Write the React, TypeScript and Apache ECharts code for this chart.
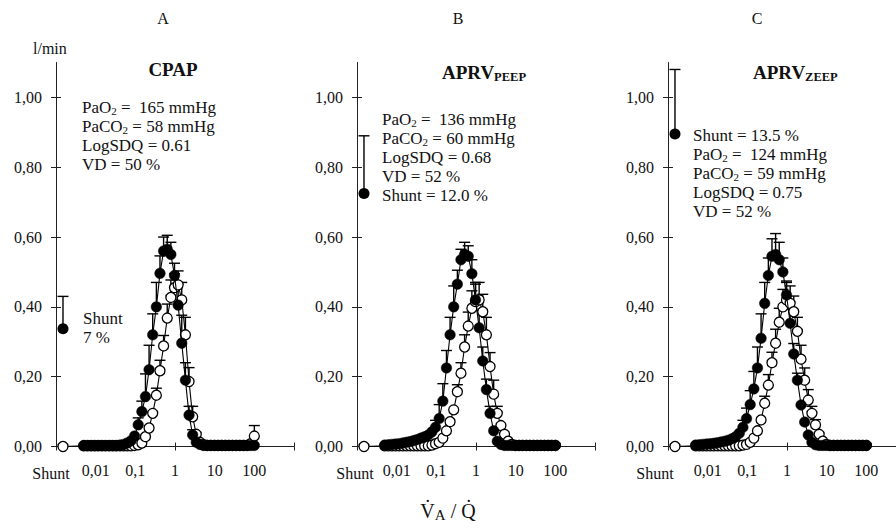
import React, { useEffect, useRef } from 'react';
import * as echarts from 'echarts';

// 48 MIGET compartments (VA/Q), log-spaced 0.005 .. 100
const VAQ = [0.005, 0.00618, 0.00762, 0.00941, 0.0116, 0.01435, 0.0177, 0.0219, 0.027, 0.0333, 0.0411, 0.0508, 0.0627, 0.0774, 0.0955, 0.118, 0.146, 0.18, 0.222, 0.274, 0.339, 0.418, 0.516, 0.637, 0.787, 0.971, 1.2, 1.48, 1.83, 2.26, 2.79, 3.44, 4.25, 5.24, 6.47, 7.99, 9.87, 12.2, 15.0, 18.6, 22.9, 28.3, 34.9, 43.1, 53.2, 65.8, 81.1, 100];
const SHUNT_POS = 0.0015;

// Panel A (CPAP) – perfusion (filled) and ventilation (open), l/min
const A_Q = [0.003, 0.003, 0.003, 0.003, 0.003, 0.003, 0.003, 0.003, 0.003, 0.003, 0.004, 0.006, 0.01, 0.016, 0.03, 0.062, 0.10, 0.143, 0.22, 0.32, 0.40, 0.496, 0.56, 0.565, 0.55, 0.49, 0.405, 0.296, 0.19, 0.09, 0.033, 0.012, 0.006, 0.003, 0.003, 0.003, 0.003, 0.003, 0.003, 0.003, 0.003, 0.003, 0.003, 0.003, 0.003, 0.003, 0.003, 0.003];
const A_V = [0.002, 0.002, 0.002, 0.002, 0.002, 0.002, 0.002, 0.002, 0.002, 0.002, 0.002, 0.002, 0.002, 0.002, 0.003, 0.005, 0.01, 0.028, 0.053, 0.095, 0.147, 0.217, 0.288, 0.368, 0.427, 0.455, 0.463, 0.42, 0.32, 0.186, 0.085, 0.035, 0.012, 0.005, 0.003, 0.003, 0.003, 0.003, 0.003, 0.003, 0.003, 0.003, 0.003, 0.003, 0.003, 0.003, 0.008, 0.03];
const A_Q_SD = [0, 0, 0, 0, 0, 0, 0, 0, 0, 0, 0, 0, 0, 0, 0, 0.02, 0.03, 0.065, 0.07, 0.06, 0.07, 0.05, 0.04, 0.04, 0.035, 0.035, 0.06, 0.08, 0.05, 0.025, 0.015, 0, 0, 0, 0, 0, 0, 0, 0, 0, 0, 0, 0, 0, 0, 0, 0, 0];
const A_V_SD = [0, 0, 0, 0, 0, 0, 0, 0, 0, 0, 0, 0, 0, 0, 0, 0, 0, 0, 0, 0, 0.02, 0.03, 0.03, 0.04, 0.05, 0.04, 0.04, 0.05, 0.05, 0.04, 0.03, 0, 0, 0, 0, 0, 0, 0, 0, 0, 0, 0, 0, 0, 0, 0, 0, 0.03];

// Panel B (APRV PEEP)
const B_Q = [0.004, 0.005, 0.006, 0.007, 0.008, 0.01, 0.012, 0.014, 0.017, 0.02, 0.024, 0.028, 0.033, 0.042, 0.055, 0.08, 0.13, 0.225, 0.32, 0.40, 0.465, 0.535, 0.55, 0.545, 0.495, 0.42, 0.34, 0.245, 0.163, 0.095, 0.045, 0.015, 0.006, 0.003, 0.003, 0.003, 0.003, 0.003, 0.003, 0.003, 0.003, 0.003, 0.003, 0.003, 0.003, 0.003, 0.003, 0.003];
const B_V = [0.002, 0.002, 0.002, 0.002, 0.002, 0.002, 0.002, 0.002, 0.002, 0.002, 0.002, 0.002, 0.002, 0.004, 0.008, 0.012, 0.024, 0.045, 0.071, 0.105, 0.157, 0.21, 0.285, 0.345, 0.396, 0.415, 0.42, 0.386, 0.32, 0.229, 0.15, 0.095, 0.06, 0.035, 0.015, 0.006, 0.003, 0.003, 0.003, 0.003, 0.003, 0.003, 0.003, 0.003, 0.003, 0.003, 0.003, 0.003];
const B_Q_SD = [0, 0, 0, 0, 0, 0, 0, 0, 0, 0, 0, 0, 0, 0, 0.02, 0.04, 0.05, 0.05, 0.05, 0.06, 0.04, 0.03, 0.035, 0.03, 0.04, 0.05, 0.05, 0.04, 0.03, 0.02, 0, 0, 0, 0, 0, 0, 0, 0, 0, 0, 0, 0, 0, 0, 0, 0, 0, 0];
const B_V_SD = [0, 0, 0, 0, 0, 0, 0, 0, 0, 0, 0, 0, 0, 0, 0, 0, 0, 0, 0, 0, 0.02, 0.03, 0.035, 0.04, 0.05, 0.05, 0.05, 0.05, 0.05, 0.04, 0.04, 0.02, 0, 0, 0, 0, 0, 0, 0, 0, 0, 0, 0, 0, 0, 0, 0, 0];

// Panel C (APRV ZEEP)
const C_Q = [0.004, 0.005, 0.006, 0.007, 0.008, 0.009, 0.011, 0.013, 0.015, 0.018, 0.022, 0.028, 0.038, 0.055, 0.08, 0.12, 0.165, 0.225, 0.31, 0.41, 0.49, 0.545, 0.55, 0.535, 0.50, 0.434, 0.353, 0.265, 0.19, 0.119, 0.07, 0.033, 0.012, 0.005, 0.003, 0.003, 0.003, 0.003, 0.003, 0.003, 0.003, 0.003, 0.003, 0.003, 0.003, 0.003, 0.003, 0.003];
const C_V = [0.002, 0.002, 0.002, 0.002, 0.002, 0.002, 0.002, 0.002, 0.002, 0.002, 0.002, 0.002, 0.002, 0.004, 0.006, 0.012, 0.024, 0.045, 0.076, 0.124, 0.176, 0.24, 0.296, 0.356, 0.40, 0.42, 0.41, 0.386, 0.33, 0.25, 0.19, 0.133, 0.095, 0.062, 0.035, 0.015, 0.006, 0.003, 0.003, 0.003, 0.003, 0.003, 0.003, 0.003, 0.003, 0.003, 0.003, 0.003];
const C_Q_SD = [0, 0, 0, 0, 0, 0, 0, 0, 0, 0, 0, 0, 0, 0.02, 0.03, 0.04, 0.05, 0.06, 0.07, 0.06, 0.05, 0.05, 0.06, 0.05, 0.04, 0.04, 0.04, 0.03, 0.02, 0, 0, 0, 0, 0, 0, 0, 0, 0, 0, 0, 0, 0, 0, 0, 0, 0, 0, 0];
const C_V_SD = [0, 0, 0, 0, 0, 0, 0, 0, 0, 0, 0, 0, 0, 0, 0, 0, 0, 0, 0, 0.02, 0.03, 0.03, 0.04, 0.04, 0.05, 0.05, 0.05, 0.045, 0.04, 0.04, 0.035, 0.03, 0.02, 0.015, 0, 0, 0, 0, 0, 0, 0, 0, 0, 0, 0, 0, 0, 0];

// Shunt perfusion (l/min) and its SD, per panel
const SHUNT_Q = [0.337, 0.725, 0.895];
const SHUNT_SD = [0.093, 0.165, 0.185];

// Axis ticks / labels
const Y_TICKS = [0, 0.2, 0.4, 0.6, 0.8, 1.0];
const X_TICKS = [0.001, 1, 1000];
const X_LABELS = [0.01, 0.1, 1, 10, 100];

// Texts
const TITLES = ['CPAP', 'APRV{s|PEEP}', 'APRV{s|ZEEP}'];
const LETTERS = ['A', 'B', 'C'];
const NOTES_A = ['PaO{s|2} =  165 mmHg', 'PaCO{s|2} = 58 mmHg', 'LogSDQ = 0.61', 'VD = 50 %'];
const NOTES_B = ['PaO{s|2} =  136 mmHg', 'PaCO{s|2} = 60 mmHg', 'LogSDQ = 0.68', 'VD = 52 %', 'Shunt = 12.0 %'];
const NOTES_C = ['Shunt = 13.5 %', 'PaO{s|2} =  124 mmHg', 'PaCO{s|2} = 59 mmHg', 'LogSDQ = 0.75', 'VD = 52 %'];

const FONT = 'Liberation Serif';
const INK = '#111';

const PANEL_LEFT = [56, 357, 668];
const GRID_TOP = 62.5;
const GRID_W = 238;
const GRID_H = 384;

export default function App() {
  const ref = useRef<HTMLDivElement>(null);

  useEffect(() => {
    if (!ref.current) return;
    const chart = echarts.init(ref.current, undefined, { renderer: 'svg' });
    const lg = (v: number) => Math.log10(v);

    const panels = [
      { Q: A_Q, V: A_V, QSD: A_Q_SD, VSD: A_V_SD },
      { Q: B_Q, V: B_V, QSD: B_Q_SD, VSD: B_V_SD },
      { Q: C_Q, V: C_V, QSD: C_Q_SD, VSD: C_V_SD },
    ];

    const grid: any[] = [];
    const xAxis: any[] = [];
    const yAxis: any[] = [];
    const series: any[] = [];

    const axisColor = '#222';

    panels.forEach((p, i) => {
      grid.push({
        left: PANEL_LEFT[i], top: GRID_TOP, width: GRID_W, height: GRID_H,
        containLabel: false, outerBoundsMode: 'none',
      });
      const xBase = {
        type: 'value', gridIndex: i, min: -3, max: 3, position: 'bottom',
        splitLine: { show: false },
      };
      xAxis.push({
        ...xBase,
        axisLine: { show: true, onZero: false, lineStyle: { color: axisColor, width: 1 } },
        axisTick: { show: true, length: 4, customValues: X_TICKS.map(lg), lineStyle: { color: axisColor, width: 1 } },
        axisLabel: {
          show: true,
          customValues: X_LABELS.map(lg),
          formatter: (v: number) => String(Number(Math.pow(10, v).toPrecision(3))).replace('.', ','),
          fontFamily: FONT, fontSize: 16, color: INK, margin: 16,
        },
      });
      xAxis.push({
        ...xBase,
        axisLine: { show: false, onZero: false },
        axisTick: { show: true, inside: true, length: 4, customValues: X_TICKS.map(lg), lineStyle: { color: axisColor, width: 1 } },
        axisLabel: { show: false },
      });
      const yBase = {
        type: 'value', gridIndex: i, min: 0, max: 1.1, position: 'left',
        splitLine: { show: false },
      };
      yAxis.push({
        ...yBase,
        axisLine: { show: true, onZero: false, lineStyle: { color: axisColor, width: 1 } },
        axisTick: { show: true, length: 5, customValues: Y_TICKS, lineStyle: { color: axisColor, width: 1 } },
        axisLabel: {
          show: true, customValues: Y_TICKS,
          formatter: (v: number) => v.toFixed(2).replace('.', ','),
          fontFamily: FONT, fontSize: 16, color: INK, margin: 14,
        },
      });
      yAxis.push({
        ...yBase,
        axisLine: { show: false, onZero: false },
        axisTick: { show: true, inside: true, length: 5, customValues: Y_TICKS, lineStyle: { color: axisColor, width: 1 } },
        axisLabel: { show: false },
      });

      const xi = 2 * i;
      const errData: number[][] = [];
      VAQ.forEach((v, k) => {
        if (p.QSD[k] > 0) errData.push([lg(v), p.Q[k], p.QSD[k]]);
        if (p.VSD[k] > 0) errData.push([lg(v), p.V[k], p.VSD[k]]);
      });
      errData.push([lg(SHUNT_POS), SHUNT_Q[i], SHUNT_SD[i]]);

      series.push({
        type: 'custom', xAxisIndex: xi, yAxisIndex: xi, z: 1, clip: false,
        data: errData,
        encode: { x: 0, y: 1 },
        renderItem: (params: any, api: any) => {
          const x = api.value(0), y = api.value(1), sd = api.value(2);
          const p0 = api.coord([x, y]);
          const p1 = api.coord([x, y + sd]);
          const st = { stroke: '#000', lineWidth: 1.4 };
          return {
            type: 'group',
            children: [
              { type: 'line', shape: { x1: p0[0], y1: p0[1], x2: p1[0], y2: p1[1] }, style: st },
              { type: 'line', shape: { x1: p1[0] - 5.5, y1: p1[1], x2: p1[0] + 5.5, y2: p1[1] }, style: st },
            ],
          };
        },
      });
      series.push({
        type: 'line', xAxisIndex: xi, yAxisIndex: xi, z: 2,
        data: [[lg(SHUNT_POS), 0], ...VAQ.map((v, k) => [lg(v), p.V[k]])],
        symbol: 'circle', symbolSize: 10, showAllSymbol: true,
        itemStyle: { color: '#fff', borderColor: '#000', borderWidth: 1.3, opacity: 1 },
        lineStyle: { color: '#000', width: 1.1 },
        emphasis: { disabled: true },
      });
      series.push({
        type: 'line', xAxisIndex: xi, yAxisIndex: xi, z: 3,
        data: VAQ.map((v, k) => [lg(v), p.Q[k]]),
        symbol: 'circle', symbolSize: 10.5, showAllSymbol: true,
        itemStyle: { color: '#000', borderColor: '#000', borderWidth: 0.5, opacity: 1 },
        lineStyle: { color: '#000', width: 1.1 },
        emphasis: { disabled: true },
      });
      series.push({
        type: 'scatter', xAxisIndex: xi, yAxisIndex: xi, z: 3,
        data: [[lg(SHUNT_POS), SHUNT_Q[i]]],
        symbol: 'circle', symbolSize: 11,
        itemStyle: { color: '#000', opacity: 1 },
        emphasis: { disabled: true },
      });
    });

    const txt = (x: number, y: number, text: string, extra: any = {}) => ({
      type: 'text', x, y, z: 100,
      style: {
        text, fill: INK, fontFamily: FONT, fontSize: 16, fontWeight: 'normal',
        align: 'left', verticalAlign: 'middle', textAlign: 'left', textVerticalAlign: 'middle',
        ...extra,
      },
    });
    const subRich = (size: number, weight = 'normal', lh = 10) => ({
      s: { fontSize: size, fontFamily: FONT, fontWeight: weight, fill: INK, verticalAlign: 'bottom', lineHeight: lh },
    });

    const graphic: any[] = [];
    const letterX = [163, 458, 757];
    LETTERS.forEach((l, i) => graphic.push(txt(letterX[i], 18, l, { align: 'center', textAlign: 'center' })));
    graphic.push(txt(33, 48, 'l/min'));

    graphic.push(txt(173, 69, TITLES[0], { fontSize: 19, fontWeight: 'bold', align: 'center', textAlign: 'center' }));
    graphic.push(txt(442, 72, TITLES[1], { fontSize: 19, fontWeight: 'bold', lineHeight: 22, rich: subRich(12.5, 'bold', 13) }));
    graphic.push(txt(753, 72, TITLES[2], { fontSize: 19, fontWeight: 'bold', lineHeight: 22, rich: subRich(12.5, 'bold', 13) }));

    const noteBlock = (x: number, yTop: number, lines: string[]) =>
      txt(x, yTop, lines.join('\n'), {
        fontSize: 17, lineHeight: 19, verticalAlign: 'top', textVerticalAlign: 'top', rich: subRich(11),
      });
    graphic.push(noteBlock(82, 97.5, NOTES_A));
    graphic.push(noteBlock(382, 109.5, NOTES_B));
    graphic.push(noteBlock(693, 125.5, NOTES_C));

    graphic.push(txt(83, 308.5, 'Shunt\n7 %', { fontSize: 17, lineHeight: 19, verticalAlign: 'top', textVerticalAlign: 'top' }));

    const shuntLabelX = [51, 355, 655];
    shuntLabelX.forEach((x) => graphic.push(txt(x, 473, 'Shunt', { align: 'center', textAlign: 'center' })));

    graphic.push(txt(448, 511, 'V\u0307{a|A} / Q\u0307', {
      fontSize: 20, lineHeight: 22, align: 'center', textAlign: 'center',
      rich: { a: { fontSize: 15, fontFamily: FONT, fill: INK, verticalAlign: 'bottom', lineHeight: 21 } },
    }));

    chart.setOption({
      animation: false,
      backgroundColor: '#fff',
      grid, xAxis, yAxis, series, graphic,
    });

    return () => chart.dispose();
  }, []);

  return <div ref={ref} style={{ position: 'absolute', left: 0, top: 0, width: 896, height: 529 }} />;
}
